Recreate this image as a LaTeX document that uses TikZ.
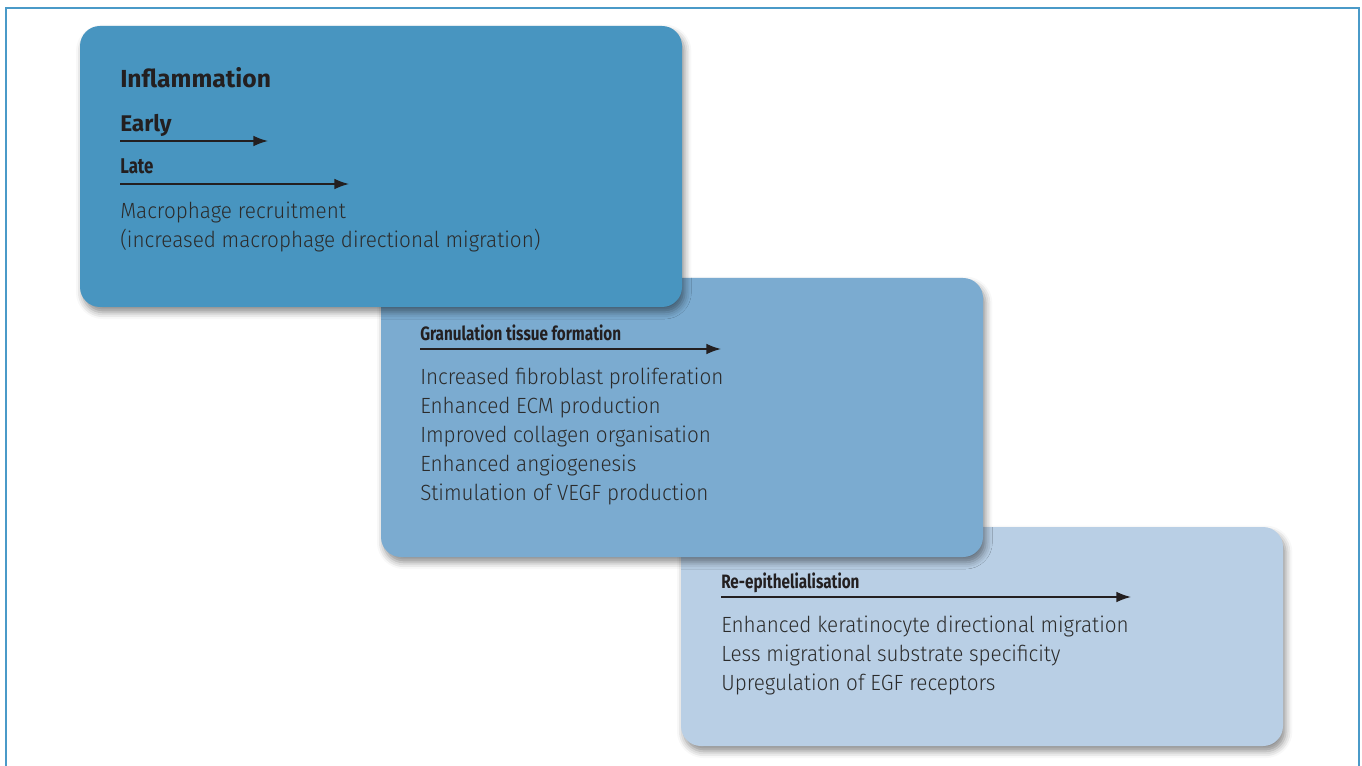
\documentclass[tikz,border=0pt]{standalone}
\usepackage{fontspec}
\setmainfont{Fira Sans}[UprightFont={* Light},BoldFont={* Bold}]
\newfontfamily\condbold{Fira Sans}[UprightFont={* Bold},FakeStretch=0.79]
\newfontfamily\bodyfont{Fira Sans}[UprightFont={* Light},FakeStretch=0.94]
\usetikzlibrary{shadows.blur,arrows.meta}
\definecolor{frameblue}{HTML}{4A9AC8}
\definecolor{boxA}{HTML}{4895C0}
\definecolor{boxB}{HTML}{7BABD0}
\definecolor{boxC}{HTML}{B9CFE5}
\definecolor{ink}{HTML}{231F20}
\definecolor{bodyink}{HTML}{2B2B2B}
\tikzset{
  stage/.style={rounded corners=15pt, blur shadow={shadow xshift=2pt, shadow yshift=-4pt, shadow blur radius=5pt, shadow opacity=45}},
  timeline/.style={draw=ink, line width=1.1pt, -{Latex[length=11pt,width=8pt]}},
  bodytext/.style={anchor=base west, inner sep=0pt, text=bodyink, font=\bodyfont\fontsize{16.5pt}{21.75pt}\selectfont},
  headbig/.style={anchor=base west, inner sep=0pt, text=ink, font=\bfseries\fontsize{17pt}{20pt}\selectfont},
  headcond/.style={anchor=base west, inner sep=0pt, text=ink, font=\condbold\fontsize{14.5pt}{17pt}\selectfont},
}
\begin{document}
\begin{tikzpicture}[x=0.75pt,y=-0.75pt]
\useasboundingbox (0,0) rectangle (1362,766);
% frame
\draw[frameblue, line width=1.6pt] (6,770) -- (6,8) -- (1359,8) -- (1359,770);
% boxes (back to front)
\fill[boxC, stage] (681,527) rectangle (1283,746);
\fill[boxB, stage] (381,278) rectangle (983,557);
\fill[boxA, stage] (80,26) rectangle (682,307);
% box 1 text
\node[headbig, font=\bfseries\fontsize{18.5pt}{20pt}\selectfont] (infl) at (120,88) {Inflammation};
\node[headbig] (early) at (120,132) {Early};
\coordinate (e0) at (120,141); \coordinate (e1) at (268,141);
\draw[timeline] (e0) -- (e1);
\node[headcond, font=\condbold\fontsize{16pt}{18pt}\selectfont] (late) at (120,174) {Late};
\coordinate (l0) at (120,184); \coordinate (l1) at (349,184);
\draw[timeline] (l0) -- (l1);
\node[bodytext] (macro1) at (120,219) {Macrophage recruitment};
\node[bodytext] (macro2) at (120,248) {(increased macrophage directional migration)};
% box 2 text
\node[headcond] (gran) at (420,340) {Granulation tissue formation};
\coordinate (g0) at (420,349); \coordinate (g1) at (721,349);
\draw[timeline] (g0) -- (g1);
\node[bodytext] (gl1) at (420,384) {Increased fibroblast proliferation};
\node[bodytext] (gl2) at (420,413) {Enhanced ECM production};
\node[bodytext] (gl3) at (420,442) {Improved collagen organisation};
\node[bodytext] (gl4) at (420,471) {Enhanced angiogenesis};
\node[bodytext] (gl5) at (420,500) {Stimulation of VEGF production};
% box 3 text
\node[headcond] (reepi) at (721,588) {Re-epithelialisation};
\coordinate (r0) at (721,597); \coordinate (r1) at (1131,597);
\draw[timeline] (r0) -- (r1);
\node[bodytext] (rl1) at (721,632) {Enhanced keratinocyte directional migration};
\node[bodytext] (rl2) at (721,661) {Less migrational substrate specificity};
\node[bodytext] (rl3) at (721,690) {Upregulation of EGF receptors};
\end{tikzpicture}
\end{document}
